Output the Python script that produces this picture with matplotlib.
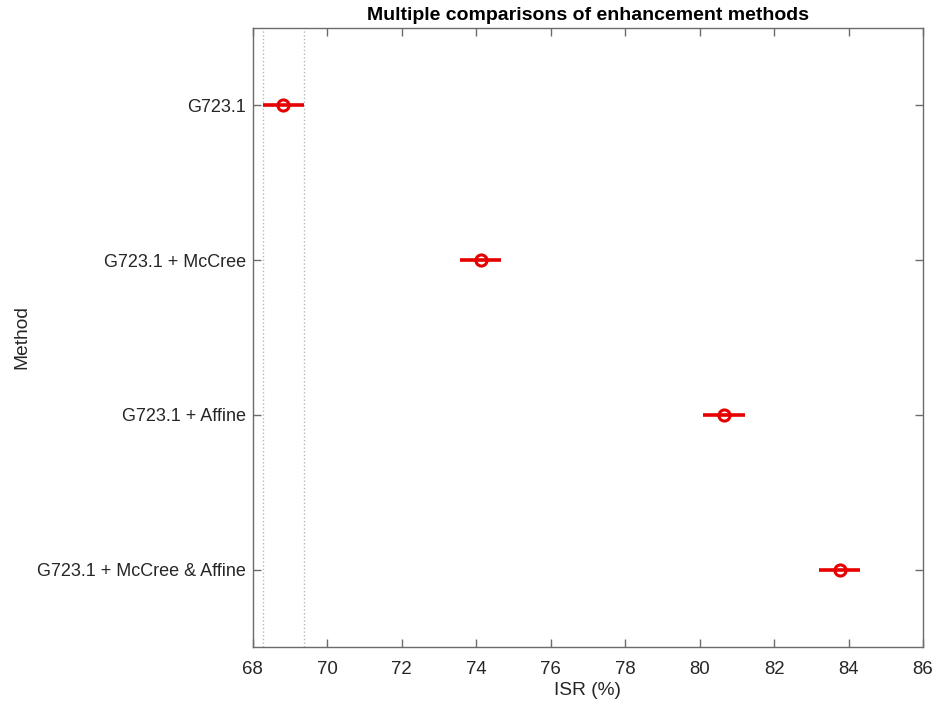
import matplotlib.pyplot as plt
import numpy as np

plt.rcParams['font.family'] = ['Liberation Sans', 'DejaVu Sans']

# Group estimates and comparison intervals
methods = ['G723.1', 'G723.1 + McCree', 'G723.1 + Affine', 'G723.1 + McCree & Affine']
means = [68.82, 74.12, 80.66, 83.76]
lower = [68.28, 73.57, 80.10, 83.21]
upper = [69.37, 74.68, 81.21, 84.32]

fig = plt.figure(figsize=(9.38, 7.08), dpi=100)
ax = fig.add_axes([252.7 / 938, 1 - 647 / 708, (923 - 252.7) / 938, (647 - 28) / 708])

ypos = np.arange(len(methods), 0, -1)
red = '#e60000'

# bounds of the selected group (first one)
for xv in (lower[0], upper[0]):
    ax.axvline(xv, color='#b8b8b8', linestyle=':', linewidth=1, zorder=1)

for y, m, lo, hi in zip(ypos, means, lower, upper):
    ax.plot([lo, hi], [y, y], color=red, linewidth=2.6, solid_capstyle='butt', zorder=3)
    ax.plot(m, y, 'o', markersize=8, markerfacecolor='none', markeredgecolor=red,
            markeredgewidth=2.2, zorder=4)

ax.set_xlim(68, 86)
ax.set_ylim(0.5, len(methods) + 0.5)
ax.set_xticks(np.arange(68, 87, 2))
ax.set_yticks(ypos)
ax.set_yticklabels(methods)

axis_col = '#6b6b6b'
for s in ax.spines.values():
    s.set_color(axis_col)
    s.set_linewidth(1.0)
ax.tick_params(direction='in', length=6, width=1, color=axis_col, labelcolor='#262626',
               labelsize=13.4, top=True, right=True)
ax.tick_params(axis='x', pad=10)
ax.tick_params(axis='y', pad=5, labelsize=13.0)

ax.set_title('Multiple comparisons of enhancement methods', fontsize=14,
             fontweight='bold', color='black', pad=6)
ax.set_xlabel('ISR (%)', fontsize=13.8, color='#262626', labelpad=3)
ax.set_ylabel('Method', fontsize=13.8, color='#262626', labelpad=6)
ax.yaxis.set_label_coords(-(252.7 - 30) / (923 - 252.7), 0.5)

fig.savefig('out.png', dpi=100, facecolor='white')
